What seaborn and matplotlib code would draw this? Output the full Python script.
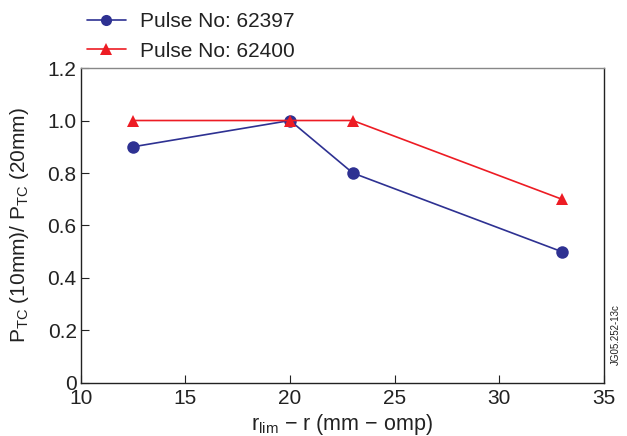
import matplotlib
matplotlib.use("Agg")
import matplotlib.pyplot as plt
import seaborn as sns
import pandas as pd

# Distance from limiter (mm, outer midplane)
r_62397 = [12.5, 20, 23, 33]
ratio_62397 = [0.9, 1.0, 0.8, 0.5]
r_62400 = [12.5, 20, 23, 33]
ratio_62400 = [1.0, 1.0, 1.0, 0.7]
pulses = ["Pulse No: 62397", "Pulse No: 62400"]
xticks = [10, 15, 20, 25, 30, 35]
yticks = [0, 0.2, 0.4, 0.6, 0.8, 1.0, 1.2]
ytick_labels = ["0", "0.2", "0.4", "0.6", "0.8", "1.0", "1.2"]

df = pd.concat([
    pd.DataFrame({"r": r_62397, "ratio": ratio_62397, "pulse": pulses[0]}),
    pd.DataFrame({"r": r_62400, "ratio": ratio_62400, "pulse": pulses[1]}),
])

sns.set_style("ticks")
plt.rcParams["font.family"] = ["Liberation Sans", "DejaVu Sans"]
plt.rcParams["mathtext.fontset"] = "custom"
plt.rcParams["mathtext.rm"] = "Liberation Sans"
plt.rcParams["mathtext.it"] = "Liberation Sans"

fig = plt.figure(figsize=(6.27, 4.36), dpi=100)
ax = fig.add_axes([0.129, 0.1216, 0.834, 0.7224])

palette = {pulses[0]: "#2e3192", pulses[1]: "#ed1c24"}
sns.lineplot(data=df, x="r", y="ratio", hue="pulse", style="pulse",
             markers={pulses[0]: "o", pulses[1]: "^"}, dashes=False,
             palette=palette, markersize=9, markeredgewidth=0,
             linewidth=1.2, ax=ax, legend=True)

ax.set_xlim(10, 35)
ax.set_ylim(0, 1.2)
ax.set_xticks(xticks)
ax.set_yticks(yticks)
ax.set_yticklabels(ytick_labels)
ax.tick_params(direction="in", length=6, width=0.8, labelsize=15, colors="#222222")
ax.tick_params(axis="x", pad=4)
ax.tick_params(axis="y", pad=3)
for side, sp in ax.spines.items():
    sp.set_linewidth(1.0)
    sp.set_color("#222222")
ax.spines["top"].set_color("#888888")

ax.set_xlabel(r"r$_{\mathrm{lim}}$ − r (mm − omp)", fontsize=15.5, color="#222222", labelpad=3)
ax.set_ylabel(r"P$_{\mathrm{TC}}$ (10mm)/ P$_{\mathrm{TC}}$ (20mm)", fontsize=15, color="#222222", labelpad=12)

leg = ax.legend(loc="lower left", bbox_to_anchor=(-0.003, 1.0), frameon=False,
                fontsize=15, handlelength=1.9, borderaxespad=0.2, labelspacing=0.5,
                handletextpad=0.65, borderpad=0.15)
for t in leg.get_texts():
    t.set_color("#222222")
for h in leg.legend_handles:
    h.set_markersize(8)

fig.text(0.982, 0.163, "JG05.252-13c", rotation=90, fontsize=7, color="#222222",
         ha="center", va="bottom")

fig.savefig("out.png", dpi=100)
